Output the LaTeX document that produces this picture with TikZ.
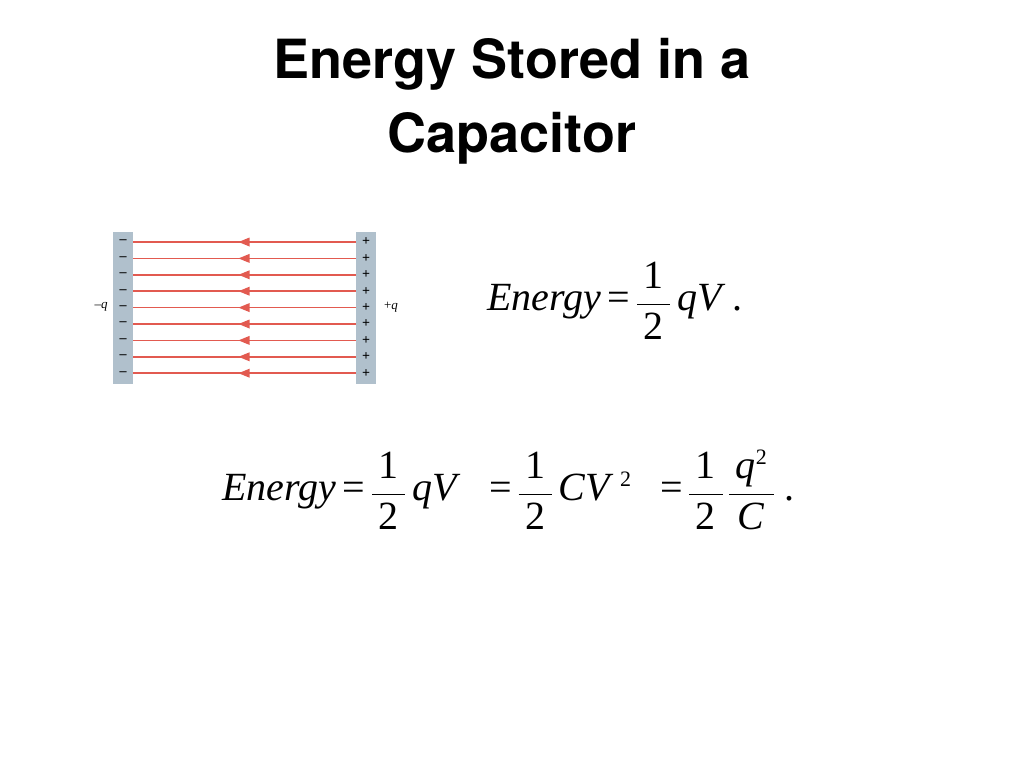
\documentclass[tikz,border=0pt]{standalone}
\usepackage{fontspec}
\setmainfont{Liberation Serif}
\newfontfamily\headfont{TeX Gyre Heros}
\usetikzlibrary{calc,positioning}
\definecolor{plategray}{RGB}{176,192,204}
\definecolor{fieldred}{RGB}{226,90,80}
\tikzset{
	%Define style for plates
	plate/.style={fill=plategray, draw=none},
	% Define field line style
	fline/.style={fieldred, line width=1.5pt},
	%Define style for texts
	sign/.style={font=\fontsize{14}{14}\selectfont\bfseries, inner sep=0pt},
	eqn/.style={font=\fontsize{40}{48}\selectfont, anchor=base west, inner sep=0pt}
}
\newcommand{\fr}[2]{$\vcenter{\hbox{\setlength{\tabcolsep}{0pt}\renewcommand{\arraystretch}{1.05}\begin{tabular}{c}#1\\\hline #2\end{tabular}}}$}
\newcommand{\eq}{\,=\,}
\begin{document}
\begin{tikzpicture}[x=1pt,y=-1pt]
	\useasboundingbox (0,0) rectangle (1024,768);
	% title
	\node[font=\headfont\bfseries\fontsize{54}{74}\selectfont, align=center, anchor=north] (title) at (512,35) {Energy Stored in a\\Capacitor};
	% plates
	\fill[plate] (113,232) rectangle (133,384);
	\fill[plate] (356,232) rectangle (376,384);
	% field lines
	\foreach \i in {0,...,8} {
		\coordinate (r\i) at (356,{242+16.4*\i});
		\coordinate (l\i) at (133,{242+16.4*\i});
		\draw[fline] (r\i) -- (l\i);
		\fill[fieldred] ($(r\i)!0.5!(l\i)+(-6,0)$) -- ++(11,-4.5) -- ++(0,9) -- cycle;
		\node[sign] at (123,{242+16.4*\i}) {\textendash};
		\node[sign] at (366,{242+16.4*\i}) {+};
	}
	% charges
	\node[font=\fontsize{13}{13}\selectfont] (qneg) at (101,307) {\textendash\textit{q}};
	\node[font=\fontsize{13}{13}\selectfont] (qpos) at (391,307) {+\textit{q}};
	% equations
	\node[eqn] (eq1) at (487,310) {\textit{Energy}\eq\fr{\,1\,}{\,2\,}\,\textit{qV}\,.};
	\node[eqn] (eq2) at (222,500) {\textit{Energy}\eq\fr{\,1\,}{\,2\,}\,\textit{qV}\;\;\eq\fr{\,1\,}{\,2\,}\,\textit{CV}\,\raisebox{14pt}{\fontsize{22}{22}\selectfont 2}\;\;\eq\fr{\,1\,}{\,2\,}\,\fr{\,\textit{q}\raisebox{14pt}{\fontsize{22}{22}\selectfont 2}\,}{\,\textit{C}\,}\;.};
\end{tikzpicture}
\end{document}
